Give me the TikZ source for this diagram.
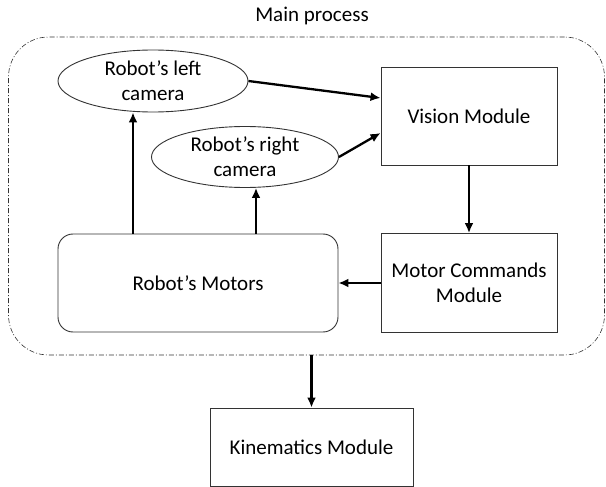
\documentclass[tikz,border=0pt]{standalone}
\usepackage{fontspec}
\setmainfont{Carlito}
\usetikzlibrary{arrows.meta,shapes.geometric}

\begin{document}
\begin{tikzpicture}[x=1pt,y=-1pt,
    font=\fontsize{21}{25}\selectfont,
    module/.style={draw=black!80, line width=0.9pt, align=center, inner sep=0pt},
    cam/.style={module, ellipse},
    link/.style={-{Latex[length=10pt,width=9pt]}, line width=2.3pt}]
    \useasboundingbox (0,0) rectangle (606,487);

    \node(title) at (312,16) {Main process};
    \node(main) at (306.5,196) [draw=black!80, line width=0.6pt,
      dash pattern=on 5pt off 2pt on 1pt off 2pt, rounded corners=40pt,
      minimum width=596pt, minimum height=318pt] {};

    \node(lcam) at (153,81) [cam, minimum width=190pt, minimum height=62pt] {Robot’s left\\camera};
    \node(rcam) at (245,157) [cam, minimum width=187pt, minimum height=61pt] {Robot’s right\\camera};

    \node(vis) at (469,116) [module, minimum width=176pt, minimum height=98pt] {Vision Module};
    \node(mcm) at (469,283) [module, minimum width=176pt, minimum height=99pt] {Motor Commands\\Module};
    \node(mot) at (198,283) [module, rounded corners=15pt, minimum width=280pt, minimum height=98pt] {Robot’s Motors};

    \node(kin) at (311.5,447) [module, minimum width=203pt, minimum height=78pt] {Kinematics Module};

    \draw[link] ([xshift=-65pt]mot.north) -- ([xshift=-20pt]lcam.south);
    \draw[link] ([xshift=58pt]mot.north) -- ([xshift=11pt]rcam.south);
    \draw[link] (lcam.east) -- ([yshift=18pt]vis.west);
    \draw[link] (rcam.east) -- ([yshift=-17pt]vis.west);
    \draw[link] (vis.south) -- (mcm.north);
    \draw[link] (mcm.west) -- (mot.east);
    \draw[link] (kin.north |- main.south) -- (kin.north);
\end{tikzpicture}
\end{document}
